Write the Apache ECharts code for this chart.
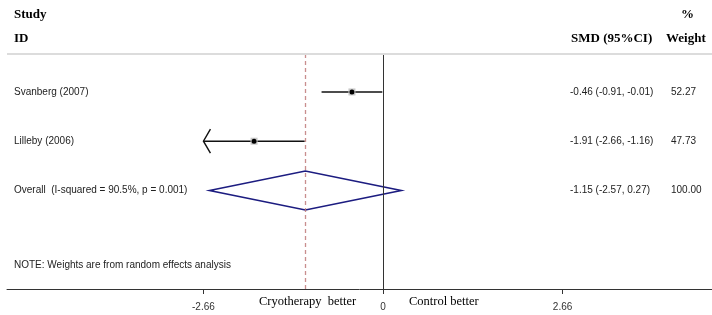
<!DOCTYPE html>
<html>
<head>
<meta charset="utf-8">
<script src="https://cdn.jsdelivr.net/npm/echarts@6/dist/echarts.min.js"></script>
<style>
  html, body { margin: 0; padding: 0; background: #fff; }
  #chart { width: 712px; height: 315px; }
</style>
</head>
<body>
<div id="chart"></div>
<script>
// study rows
const studies = ["Svanberg (2007)", "Lilleby (2006)"];
const smd = [-0.46, -1.91];
const ciLow = [-0.91, -2.66];
const ciHigh = [-0.01, -1.16];
const weights = [52.27, 47.73];
const rowPos = [4, 3];

// pooled estimate
const overallLabel = "Overall  (I-squared = 90.5%, p = 0.001)";
const overallSmd = -1.15;
const overallLow = -2.57;
const overallHigh = 0.27;
const overallWeight = 100.0;
const overallRow = 2;

const xTicks = [-2.66, 0, 2.66];
const noteText = "NOTE: Weights are from random effects analysis";
const noteRow = 0.48;

const sans = "Liberation Sans, Arial, sans-serif";
const serif = "Liberation Serif, Times New Roman, serif";

const chart = echarts.init(document.getElementById("chart"));

const studyData = studies.map((s, i) => [smd[i], rowPos[i], ciLow[i], ciHigh[i], weights[i], i]);

// confidence intervals + point estimates
const renderStudy = (params, api) => {
  const est = api.value(0), y = api.value(1), lo = api.value(2), hi = api.value(3);
  const pLo = api.coord([lo, y]);
  const pHi = api.coord([hi, y]);
  const pEst = api.coord([est, y]);
  const children = [
    {
      type: "line",
      shape: { x1: pLo[0], y1: pLo[1], x2: pHi[0], y2: pHi[1] },
      style: { stroke: "#111", lineWidth: 1.6 },
    },
    {
      type: "rect",
      shape: { x: pEst[0] - 3.5, y: pEst[1] - 3.5, width: 7, height: 7 },
      style: { fill: "#c8c8c8" },
    },
    {
      type: "circle",
      shape: { cx: pEst[0], cy: pEst[1], r: 2.5 },
      style: { fill: "#000" },
    },
  ];
  // arrow when the interval reaches the plotted range
  if (lo <= xTicks[0]) {
    children.push({
      type: "polyline",
      shape: { points: [[pLo[0] + 7, pLo[1] - 12], [pLo[0], pLo[1]], [pLo[0] + 7, pLo[1] + 12]] },
      style: { stroke: "#111", lineWidth: 1.4, fill: null },
    });
  }
  return { type: "group", children };
};

const renderDiamond = (params, api) => {
  const y = api.value(1);
  const c = api.coord([api.value(0), y]);
  const l = api.coord([api.value(2), y]);
  const r = api.coord([api.value(3), y]);
  return {
    type: "polygon",
    shape: { points: [[l[0], c[1]], [c[0], c[1] - 19.5], [r[0], c[1]], [c[0], c[1] + 19.5]] },
    style: { stroke: "#1c1c80", lineWidth: 1.6, fill: null },
  };
};

const fmt = (v) => v.toFixed(2);

// text columns on each row
const renderText = (params, api) => {
  const i = params.dataIndex;
  const y = api.coord([0, api.value(1)])[1];
  const base = { fontFamily: sans, fontSize: 10, fill: "#222", textVerticalAlign: "middle" };
  return {
    type: "group",
    children: [
      { type: "text", style: Object.assign({ x: 14, y, text: textRows[i].label }, base) },
      { type: "text", style: Object.assign({ x: 570, y, text: textRows[i].ci }, base) },
      { type: "text", style: Object.assign({ x: 671, y, text: textRows[i].w }, base) },
    ],
  };
};

const textRows = studies.map((s, i) => ({
  label: s,
  ci: `${fmt(smd[i])} (${fmt(ciLow[i])}, ${fmt(ciHigh[i])})`,
  w: fmt(weights[i]),
  row: rowPos[i],
}));
textRows.push({
  label: overallLabel,
  ci: `${fmt(overallSmd)} (${fmt(overallLow)}, ${fmt(overallHigh)})`,
  w: fmt(overallWeight),
  row: overallRow,
});
textRows.push({ label: noteText, ci: "", w: "", row: noteRow });

const option = {
  animation: false,
  grid: { left: 7, right: 0, top: 55, bottom: 26 },
  xAxis: {
    type: "value",
    min: -5.57,
    max: 4.874,
    splitLine: { show: false },
    axisLine: { lineStyle: { color: "#333", width: 1 } },
    axisTick: { customValues: xTicks, length: 5, lineStyle: { color: "#333" } },
    axisLabel: {
      customValues: xTicks,
      formatter: (v) => (v === 0 ? "0" : fmt(v)),
      fontFamily: sans,
      fontSize: 10,
      color: "#333",
      margin: 13,
    },
  },
  yAxis: { type: "value", min: 0, max: 4.75, show: false },
  graphic: [
    { type: "line", shape: { x1: 7, y1: 54, x2: 712, y2: 54 }, style: { stroke: "#dcdcdc", lineWidth: 2 } },
    { type: "text", left: 14, top: 8, style: { text: "Study", font: `bold 13px ${serif}`, fill: "#000" } },
    { type: "text", left: 14, top: 32, style: { text: "ID", font: `bold 13px ${serif}`, fill: "#000" } },
    { type: "text", left: 571, top: 32, style: { text: "SMD (95%CI)", font: `bold 13px ${serif}`, fill: "#000" } },
    { type: "text", left: 681, top: 8, style: { text: "%", font: `bold 13px ${serif}`, fill: "#000" } },
    { type: "text", left: 666, top: 32, style: { text: "Weight", font: `bold 13px ${serif}`, fill: "#000" } },
    { type: "text", left: 259, top: 295, style: { text: "Cryotherapy  better", font: `12.5px ${serif}`, fill: "#000" } },
    { type: "text", left: 409, top: 295, style: { text: "Control better", font: `12.5px ${serif}`, fill: "#000" } },
  ],
  series: [
    {
      type: "custom",
      renderItem: renderStudy,
      data: studyData,
      silent: true,
      markLine: {
        symbol: "none",
        silent: true,
        label: { show: false },
        data: [
          { xAxis: 0, lineStyle: { color: "#333", type: "solid", width: 1 } },
          { xAxis: overallSmd, lineStyle: { color: "#c07a7a", type: [4, 3], width: 1.3, opacity: 0.85 } },
        ],
      },
    },
    {
      type: "custom",
      renderItem: renderDiamond,
      data: [[overallSmd, overallRow, overallLow, overallHigh]],
      silent: true,
    },
    {
      type: "custom",
      renderItem: renderText,
      data: textRows.map((t) => [0, t.row]),
      silent: true,
    },
  ],
};

chart.setOption(option);
</script>
</body>
</html>
